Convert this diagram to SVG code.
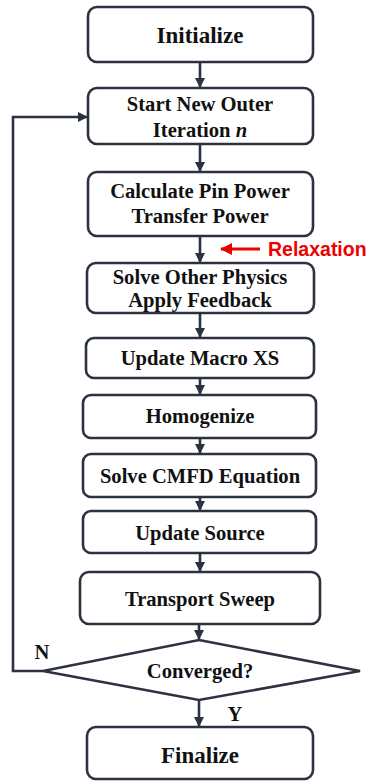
<svg xmlns="http://www.w3.org/2000/svg" width="366" height="782" viewBox="0 0 366 782">
<style>
.box{fill:#fff;stroke:#2b3340;stroke-width:2.6}
.t{font-family:"Liberation Serif","Times New Roman",serif;font-weight:bold;font-size:20.6px;fill:#111;text-anchor:middle}
.big{font-size:23px}
.c{stroke:#2b3340;stroke-width:2.6;fill:none}
</style>
<defs>
<marker id="ah" markerWidth="10" markerHeight="10" viewBox="0 0 10 10" refX="9" refY="5" orient="auto" markerUnits="userSpaceOnUse">
<path d="M0,0 L10,5 L0,10 z" fill="#2b3340"/>
</marker>
<marker id="rh" markerWidth="12" markerHeight="12" viewBox="0 0 12 12" refX="11" refY="6" orient="auto" markerUnits="userSpaceOnUse">
<path d="M0,0 L12,6 L0,12 z" fill="#ee0000"/>
</marker>
</defs>
<rect width="366" height="782" fill="#fff"/>
<g id="connectors">
<line class="c" x1="200" y1="62" x2="200" y2="87" marker-end="url(#ah)"/>
<line class="c" x1="200" y1="144" x2="200" y2="171" marker-end="url(#ah)"/>
<line class="c" x1="200" y1="236" x2="200" y2="262" marker-end="url(#ah)"/>
<line class="c" x1="200" y1="313" x2="200" y2="337" marker-end="url(#ah)"/>
<line class="c" x1="200" y1="378" x2="200" y2="394" marker-end="url(#ah)"/>
<line class="c" x1="200" y1="438" x2="200" y2="453" marker-end="url(#ah)"/>
<line class="c" x1="200" y1="497" x2="200" y2="510" marker-end="url(#ah)"/>
<line class="c" x1="200" y1="553" x2="200" y2="571" marker-end="url(#ah)"/>
<line class="c" x1="199" y1="624" x2="199" y2="639" marker-end="url(#ah)"/>
<line class="c" x1="199" y1="700" x2="199" y2="726" marker-end="url(#ah)"/>
<polyline class="c" points="43,671 13,671 13,117 87,117" marker-end="url(#ah)"/>
<text class="t" x="42" y="659" font-size="18">N</text>
<text class="t" x="235" y="721" font-size="18">Y</text>
<line x1="260" y1="249" x2="221" y2="249" stroke="#ee0000" stroke-width="3" marker-end="url(#rh)"/>
<text x="268" y="256" font-family="'Liberation Sans',Arial,sans-serif" font-weight="bold" font-size="19.5" fill="#ee0000">Relaxation</text>
</g>
<g id="initialize"><rect class="box" x="88" y="7" width="225" height="55" rx="9"/><text class="t big" x="200" y="43">Initialize</text></g>
<g id="start"><rect class="box" x="88" y="88" width="225" height="56" rx="9"/><text class="t" x="200" y="111">Start New Outer</text><text class="t" x="200" y="137">Iteration <tspan font-style="italic">n</tspan></text></g>
<g id="calc"><rect class="box" x="88" y="172" width="225" height="64" rx="9"/><text class="t" x="200" y="198">Calculate Pin Power</text><text class="t" x="200" y="223">Transfer Power</text></g>
<g id="solveother"><rect class="box" x="87" y="263" width="227" height="50" rx="9"/><text class="t" x="200" y="284">Solve Other Physics</text><text class="t" x="200" y="307">Apply Feedback</text></g>
<g id="macro"><rect class="box" x="86" y="338" width="228" height="40" rx="8"/><text class="t" x="200" y="365">Update Macro XS</text></g>
<g id="homog"><rect class="box" x="83" y="395" width="233" height="43" rx="8"/><text class="t" x="200" y="423">Homogenize</text></g>
<g id="cmfd"><rect class="box" x="83" y="454" width="233" height="43" rx="8"/><text class="t" x="200" y="483">Solve CMFD Equation</text></g>
<g id="source"><rect class="box" x="83" y="511" width="233" height="42" rx="8"/><text class="t" x="200" y="540">Update Source</text></g>
<g id="sweep"><rect class="box" x="80" y="572" width="240" height="52" rx="9"/><text class="t" x="200" y="606">Transport Sweep</text></g>
<g id="converged"><polygon class="box" points="199,640 360,671 199,700 43,671"/><text class="t" x="200" y="678">Converged?</text></g>
<g id="finalize"><rect class="box" x="87" y="727" width="226" height="52" rx="9"/><text class="t big" x="200" y="763">Finalize</text></g>
</svg>
